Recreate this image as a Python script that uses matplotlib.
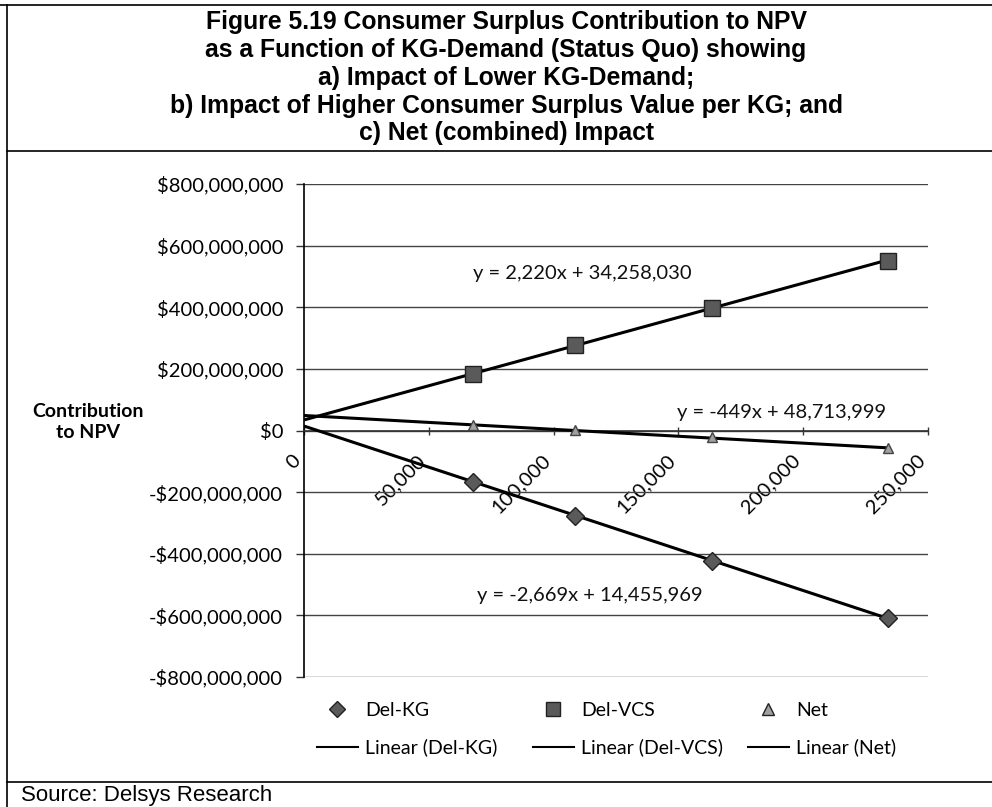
import matplotlib
matplotlib.use("Agg")
import matplotlib.pyplot as plt
from matplotlib.lines import Line2D
from matplotlib.ticker import FuncFormatter, MultipleLocator
import numpy as np

# KG-demand at each scenario point
kg_demand = [67700, 108600, 163400, 234000]

# contribution to NPV ($) per series
del_kg = [-168e6, -277e6, -423e6, -610e6]
del_vcs = [182e6, 276e6, 399e6, 551e6]
net = [18e6, 2e6, -22e6, -56e6]

# linear trend coefficients (slope, intercept) as reported on the chart
trend_slope = [-2669, 2220, -449]
trend_intercept = [14455969, 34258030, 48713999]

series_names = ["Del-KG", "Del-VCS", "Net"]

title_lines = [
    "Figure 5.19 Consumer Surplus Contribution to NPV",
    "as a Function of KG-Demand (Status Quo) showing",
    "a) Impact of Lower KG-Demand;",
    "b) Impact of Higher Consumer Surplus Value per KG; and",
    "c) Net (combined) Impact",
]

W, H = 992, 807
fig = plt.figure(figsize=(W / 100, H / 100), dpi=100)
chart_font = ["Lato", "DejaVu Sans"]
doc_font = ["Liberation Sans", "DejaVu Sans"]


def fx(px):
    return px / W


def fy(py):
    return 1 - py / H


ax = fig.add_axes([fx(304), fy(677), fx(928) - fx(304), fy(184) - fy(677)])
ax.set_xlim(0, 250000)
ax.set_ylim(-800e6, 800e6)

# gridlines
ax.yaxis.set_major_locator(MultipleLocator(200e6))
ax.xaxis.set_major_locator(MultipleLocator(50000))
ax.grid(axis="y", color="#444444", lw=1.0)
ax.set_axisbelow(True)

for s in ["top", "right"]:
    ax.spines[s].set_visible(False)
ax.spines["left"].set_color("black")
ax.spines["left"].set_linewidth(1.2)
ax.spines["bottom"].set_position(("data", 0))
ax.spines["bottom"].set_color("#333333")
ax.spines["bottom"].set_linewidth(1.2)

ax.yaxis.set_major_formatter(FuncFormatter(
    lambda v, p: ("-$" if v < 0 else "$") + f"{abs(v):,.0f}"))
ax.xaxis.set_major_formatter(FuncFormatter(lambda v, p: f"{v:,.0f}"))
ax.tick_params(axis="y", length=6, width=1, pad=9, labelsize=14.5,
               color="#333333")
ax.tick_params(axis="x", direction="inout", length=6, width=1, pad=12,
               labelsize=14.5, color="#333333")
for lab in ax.get_yticklabels() + ax.get_xticklabels():
    lab.set_family(chart_font)
for lab in ax.get_xticklabels():
    lab.set_rotation(45)
    lab.set_ha("right")
    lab.set_va("top")

# trend lines from the fitted coefficients
x_fit = np.array([0, kg_demand[-1]])
for m, b in zip(trend_slope, trend_intercept):
    ax.plot(x_fit, m * x_fit + b, color="black", lw=2.2, zorder=3,
            solid_capstyle="butt")

# data markers
ax.plot(kg_demand, del_kg, ls="none", marker="D", ms=9.5, mfc="#5a5a5a",
        mec="#222222", mew=1, zorder=4)
ax.plot(kg_demand, del_vcs, ls="none", marker="s", ms=11.5, mfc="#5a5a5a",
        mec="#222222", mew=1, zorder=4)
ax.plot(kg_demand, net, ls="none", marker="^", ms=7.5, mfc="#a0a0a0",
        mec="#444444", mew=1, zorder=4)

# trend equations
eq_pos = [(69300, -534e6), (67700, 511e6), (149400, 60e6)]
for m, b, (ex, ey) in zip(trend_slope, trend_intercept, eq_pos):
    sign = "+" if b >= 0 else "-"
    ax.text(ex, ey, f"y = {m:,}x {sign} {abs(b):,}", fontsize=14.5,
            family=chart_font, ha="left", va="center", color="#111111",
            zorder=5)

# axis title
fig.text(fx(88), fy(422), "Contribution\nto NPV", ha="center", va="center",
         fontsize=14, fontweight="bold", family=chart_font, linespacing=1.3)

# legend: three fixed-width columns
markers = [("D", 8.5, "#5a5a5a"), ("s", 9.5, "#5a5a5a"), ("^", 8, "#a0a0a0")]
col_left = [317, 533, 748]
for name, (mk, ms, fc), cx in zip(series_names, markers, col_left):
    handles = [
        Line2D([], [], ls="none", marker=mk, ms=ms, mfc=fc,
               mec="#222222", mew=1),
        Line2D([], [], color="black", lw=1.5),
    ]
    fig.legend(handles, [name, f"Linear ({name})"], loc="upper left",
               bbox_to_anchor=(fx(cx), fy(702)), frameon=False,
               borderpad=0, borderaxespad=0, handlelength=2.1,
               handletextpad=0.38, labelspacing=1.0,
               prop={"family": chart_font, "size": 14})

# title block
title_y = [22, 50, 78, 106, 133]
for t, ty in zip(title_lines, title_y):
    fig.text(fx(506), fy(ty), t, ha="center", va="center", fontsize=17.8,
             fontweight="bold", family=doc_font)

fig.text(fx(21), fy(795), "Source: Delsys Research", ha="left", va="center",
         fontsize=16, family=doc_font)

# frame lines around title, chart and source
frame = dict(color="black", lw=1.2, transform=fig.transFigure)
fig.add_artist(Line2D([0, 1], [fy(5), fy(5)], **frame))
fig.add_artist(Line2D([fx(7), 1], [fy(151), fy(151)], **frame))
fig.add_artist(Line2D([fx(7), 1], [fy(782), fy(782)], **frame))
fig.add_artist(Line2D([fx(7), fx(7)], [fy(5), 0], **frame))

fig.savefig("out.png", dpi=100)
